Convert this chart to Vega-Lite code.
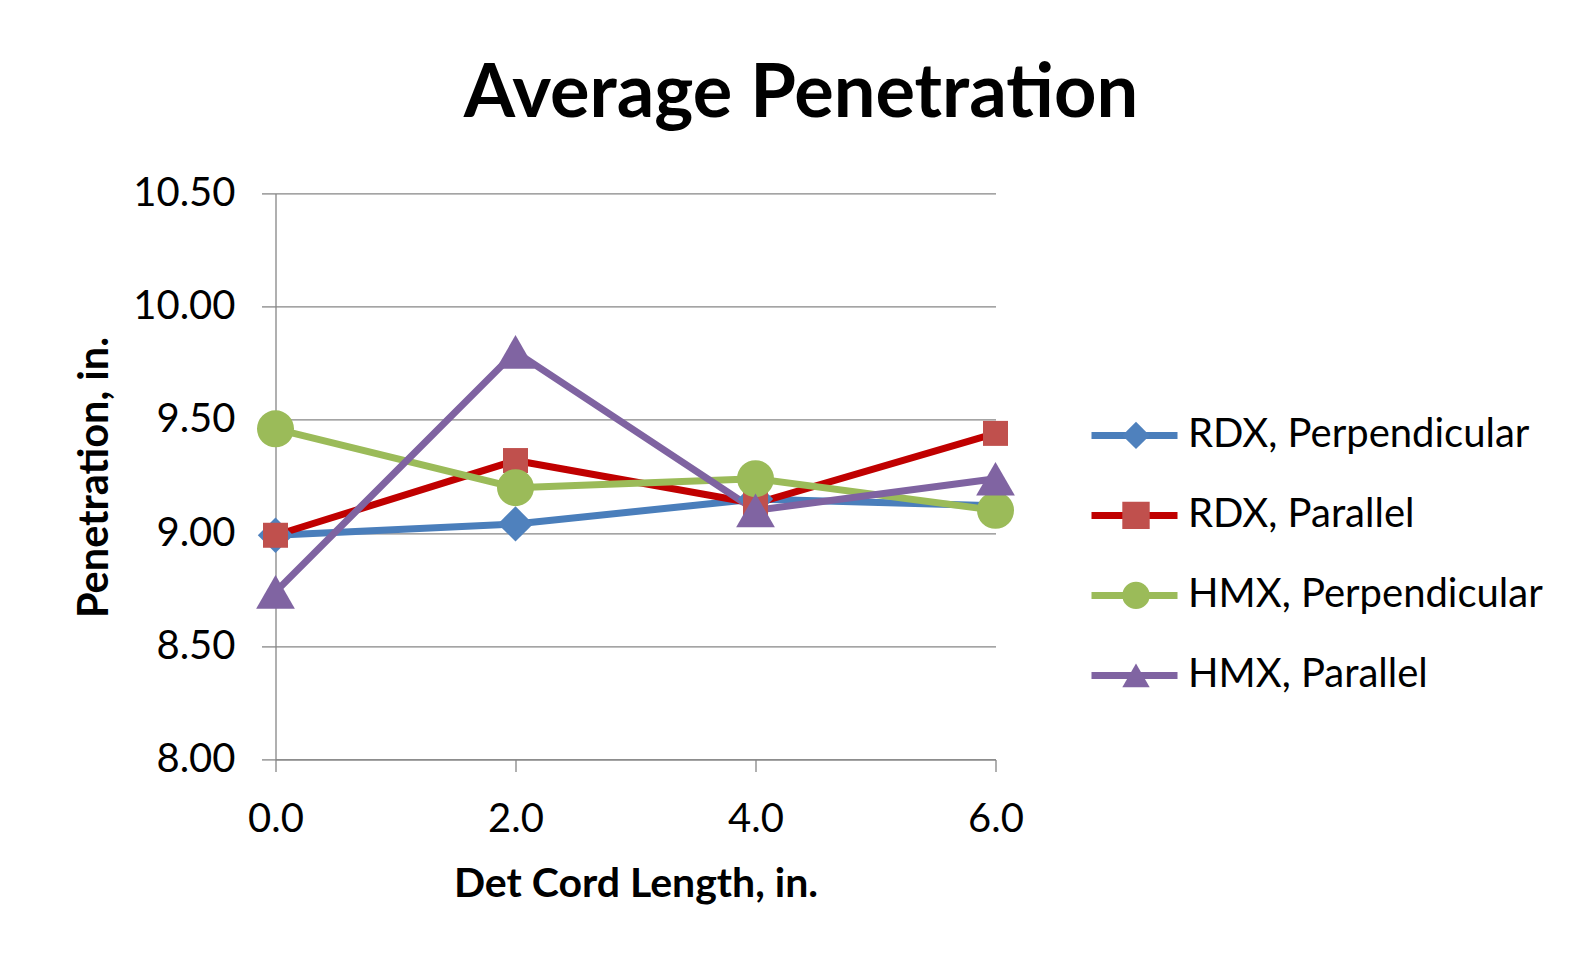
{
  "$schema": "https://vega.github.io/schema/vega-lite/v6.json",
  "width": 720,
  "height": 566,
  "autosize": "none",
  "padding": {"left": 275.5, "top": 193.4, "right": 592.5, "bottom": 200.6},
  "background": "white",
  "config": {"font": "Lato", "view": {"stroke": null}},
  "title": {
    "text": "Average Penetration",
    "font": "Lato",
    "fontSize": 74,
    "fontWeight": "bold",
    "color": "#000000",
    "anchor": "middle",
    "frame": "group",
    "baseline": "alphabetic",
    "offset": 75,
    "dx": 165.5,
    "dy": 93
  },
  "data": {
    "values": [
      {"series": "RDX, Perpendicular", "length": 0, "penetration": 8.99},
      {"series": "RDX, Perpendicular", "length": 2, "penetration": 9.04},
      {"series": "RDX, Perpendicular", "length": 4, "penetration": 9.15},
      {"series": "RDX, Perpendicular", "length": 6, "penetration": 9.12},
      {"series": "RDX, Parallel", "length": 0, "penetration": 8.99},
      {"series": "RDX, Parallel", "length": 2, "penetration": 9.32},
      {"series": "RDX, Parallel", "length": 4, "penetration": 9.13},
      {"series": "RDX, Parallel", "length": 6, "penetration": 9.44},
      {"series": "HMX, Perpendicular", "length": 0, "penetration": 9.46},
      {"series": "HMX, Perpendicular", "length": 2, "penetration": 9.20},
      {"series": "HMX, Perpendicular", "length": 4, "penetration": 9.24},
      {"series": "HMX, Perpendicular", "length": 6, "penetration": 9.10},
      {"series": "HMX, Parallel", "length": 0, "penetration": 8.74},
      {"series": "HMX, Parallel", "length": 2, "penetration": 9.80},
      {"series": "HMX, Parallel", "length": 4, "penetration": 9.10},
      {"series": "HMX, Parallel", "length": 6, "penetration": 9.24}
    ]
  },
  "encoding": {
    "x": {
      "field": "length",
      "type": "quantitative",
      "scale": {"domain": [0, 6], "nice": false, "zero": false},
      "axis": {
        "values": [0, 2, 4, 6],
        "format": ".1f",
        "grid": false,
        "labelFlush": false,
        "domainColor": "#868686",
        "domainWidth": 1.3,
        "tickColor": "#868686",
        "tickWidth": 1.3,
        "tickSize": 12,
        "labelFontSize": 40,
        "labelColor": "#000000",
        "labelPadding": 28,
        "title": "Det Cord Length, in.",
        "titleFontSize": 41,
        "titleFontWeight": "bold",
        "titleColor": "#000000",
        "titleBaseline": "alphabetic",
        "titleY": 137
      }
    },
    "y": {
      "field": "penetration",
      "type": "quantitative",
      "scale": {"domain": [8, 10.5], "nice": false, "zero": false},
      "axis": {
        "values": [8, 8.5, 9, 9.5, 10, 10.5],
        "format": ".2f",
        "grid": true,
        "gridColor": "#868686",
        "gridWidth": 1.3,
        "domainColor": "#868686",
        "domainWidth": 1.3,
        "tickColor": "#868686",
        "tickWidth": 1.3,
        "tickSize": 14,
        "labelFontSize": 40,
        "labelColor": "#000000",
        "labelPadding": 26.5,
        "title": "Penetration, in.",
        "titleFontSize": 41.5,
        "titleFontWeight": "bold",
        "titleColor": "#000000",
        "titleAngle": -90,
        "titleAlign": "center",
        "titleBaseline": "alphabetic",
        "titleX": -168,
        "titleY": 283.6
      }
    }
  },
  "resolve": {"legend": {"stroke": "independent", "fill": "independent", "shape": "independent"}},
  "layer": [
    {
      "mark": {"type": "line", "strokeWidth": 7, "strokeJoin": "round", "strokeCap": "round"},
      "encoding": {
        "stroke": {
          "field": "series",
          "type": "nominal",
          "scale": {
            "domain": ["RDX, Perpendicular", "RDX, Parallel", "HMX, Perpendicular", "HMX, Parallel"],
            "range": ["#4A7EBB", "#C00000", "#9BBB59", "#7F63A1"]
          },
          "legend": {
            "orient": "none",
            "legendX": 812.5,
            "legendY": 202,
            "title": null,
            "padding": 0,
            "symbolType": "stroke",
            "symbolSize": 7396,
            "symbolStrokeWidth": 7,
            "labelFontSize": 40,
            "labelColor": "#000000",
            "labelOffset": 7,
            "labelLimit": 0,
            "clipHeight": 80,
            "rowPadding": 0
          }
        }
      }
    },
    {
      "mark": {"type": "point", "filled": true, "opacity": 1, "strokeWidth": 0},
      "encoding": {
        "fill": {
          "field": "series",
          "type": "nominal",
          "scale": {
            "domain": ["RDX, Perpendicular", "RDX, Parallel", "HMX, Perpendicular", "HMX, Parallel"],
            "range": ["#4F81BD", "#C0504D", "#9BBB59", "#8064A2"]
          },
          "legend": {
            "orient": "none",
            "legendX": 812.5,
            "legendY": 202,
            "title": null,
            "padding": 0,
            "symbolSize": 750,
            "symbolStrokeWidth": 0,
            "symbolOffset": 28,
            "labelFontSize": 40,
            "labelExpr": "''",
            "labelLimit": 0,
            "clipHeight": 80,
            "rowPadding": 0
          }
        },
        "shape": {
          "field": "series",
          "type": "nominal",
          "scale": {
            "domain": ["RDX, Perpendicular", "RDX, Parallel", "HMX, Perpendicular", "HMX, Parallel"],
            "range": ["diamond", "square", "circle", "triangle-up"]
          },
          "legend": {
            "orient": "none",
            "legendX": 812.5,
            "legendY": 202,
            "title": null,
            "padding": 0,
            "symbolSize": 750,
            "symbolStrokeWidth": 0,
            "symbolOffset": 28,
            "labelFontSize": 40,
            "labelExpr": "''",
            "labelLimit": 0,
            "clipHeight": 80,
            "rowPadding": 0
          }
        },
        "size": {
          "field": "series",
          "type": "nominal",
          "scale": {
            "type": "ordinal",
            "domain": ["RDX, Perpendicular", "RDX, Parallel", "HMX, Perpendicular", "HMX, Parallel"],
            "range": [1250, 625, 1370, 1500]
          },
          "legend": null
        }
      }
    }
  ]
}
